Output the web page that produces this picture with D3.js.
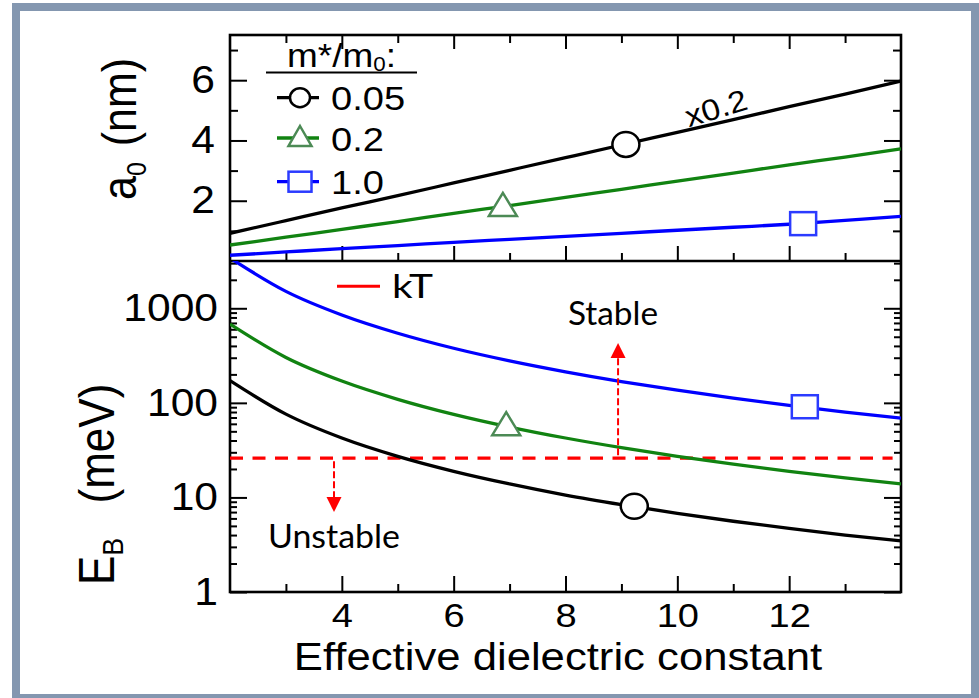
<!DOCTYPE html>
<meta charset="utf-8">
<style>
    body {
        margin: 0;
        background: #fff;
    }

    svg text {
        font-family: "Liberation Sans", Arial, sans-serif;
        fill: #000;
    }

    .tick line {
        stroke: #000;
        stroke-width: 2px;
    }

    .domain {
        display: none;
    }

    .note {
        font-family: Lato, "Noto Sans", sans-serif !important;
    }
</style>

<body>
    <svg id="chart" width="979" height="698"></svg>

    <script src="https://cdnjs.cloudflare.com/ajax/libs/d3/7.8.5/d3.min.js"></script>
    <script>
        // dielectric constant sample points
        var eps = [2, 3, 4, 5, 6, 7, 8, 9, 10, 11, 12, 13, 14];

        // exciton radius a0 (nm); the 0.05 curve is already multiplied by 0.2
        var a0Black = [0.92, 1.34, 1.76, 2.17, 2.59, 3.01, 3.43, 3.85, 4.27, 4.69, 5.12, 5.54, 5.97];
        var a0Green = [0.53, 0.79, 1.05, 1.31, 1.58, 1.84, 2.11, 2.38, 2.65, 2.92, 3.19, 3.45, 3.72];
        var a0Blue = [0.19, 0.30, 0.41, 0.51, 0.62, 0.72, 0.82, 0.92, 1.02, 1.12, 1.22, 1.35, 1.48];

        // binding energy EB (meV)
        var ebBlack = [172, 76, 42.5, 27.2, 18.9, 13.9, 10.6, 8.4, 6.8, 5.6, 4.7, 4.0, 3.47];
        var ebGreen = [680, 302, 170, 109, 75.5, 55.5, 42.5, 33.6, 27.2, 22.5, 18.9, 16.1, 13.9];
        var ebBlue = [3400, 1510, 850, 545, 378, 278, 213, 168, 136, 112, 94, 80, 69];

        var massLabels = ["0.05", "0.2", "1.0"];
        // one marker per curve: [eps, a0] and [eps, EB]
        var a0Marks = [[9.08, 3.87], [6.88, 1.80], [12.25, 1.24]];
        var ebMarks = [[9.23, 8.07], [6.94, 57], [12.28, 91]];

        var kT = 26;
        var arrowX = [3.86, 8.94];
        var arrowTip = [7.0, 430];

        var xMajor = [4, 6, 8, 10, 12];
        var xMinor = [3, 5, 7, 9, 11, 13];
        var a0Major = [2, 4, 6];
        var a0Minor = [1, 3, 5, 7];
        var ebMajor = [1, 10, 100, 1000];

        var lineColors = ["#000000", "#118311", "#0000ff"];
        var markStroke = ["#000000", "#4c8a55", "#2b3bff"];
        var markType = ["circle", "triangle", "square"];

        var svg = d3.select("#chart");
        var L = 230, R = 901, T1 = 35, B1 = 261, B2 = 592;
        var SX = 1.12; // the picture is a bit wider than tall

        var x = d3.scaleLinear().domain([2, 14]).range([L, R]);
        var yTop = d3.scaleLinear().domain([0, 7.5]).range([B1, T1]);
        var yBot = d3.scaleLog().domain([1, Math.pow(10, 3.5)]).range([B2, B1]);

        var ebMinor = [];
        ebMajor.forEach(function (d) {
            for (var m = 2; m <= 9; m++) if (m * d < 3162) ebMinor.push(m * d);
        });

        // slide frame
        svg.append("rect")
            .attr("x", 16).attr("y", 7)
            .attr("width", 959).attr("height", 691)
            .attr("fill", "none")
            .attr("stroke", "#8497b0")
            .attr("stroke-width", 8);

        var defs = svg.append("defs");
        defs.append("clipPath").attr("id", "clipTop")
            .append("rect").attr("x", L).attr("y", T1).attr("width", R - L).attr("height", B1 - T1);
        defs.append("clipPath").attr("id", "clipBot")
            .append("rect").attr("x", L).attr("y", B1).attr("width", R - L).attr("height", B2 - B1);

        // ---- axes ----
        function addAxis(axis, tx, ty, vals, size, fmt, pad, fs) {
            var g = svg.append("g")
                .attr("transform", "translate(" + tx + "," + ty + ")")
                .call(axis.tickValues(vals).tickSize(-size).tickPadding(pad || 0).tickFormat(fmt || ""));
            g.selectAll("text").style("font-size", (fs || 0) + "px");
            return g;
        }

        // top panel
        addAxis(d3.axisLeft(yTop), L, 0, a0Major, 17, d3.format("d"), 15, 38);
        addAxis(d3.axisLeft(yTop), L, 0, a0Minor, 8);
        addAxis(d3.axisRight(yTop), R, 0, a0Major, 17);
        addAxis(d3.axisRight(yTop), R, 0, a0Minor, 8);
        addAxis(d3.axisTop(x), 0, T1, xMajor, 14);
        addAxis(d3.axisTop(x), 0, T1, xMinor, 8);
        addAxis(d3.axisBottom(x), 0, B1, xMajor, 15);
        addAxis(d3.axisBottom(x), 0, B1, xMinor, 8);

        // bottom panel
        addAxis(d3.axisLeft(yBot), L, 0, ebMajor, 17, d3.format("d"), 12, 38);
        addAxis(d3.axisLeft(yBot), L, 0, ebMinor, 7);
        addAxis(d3.axisRight(yBot), R, 0, ebMajor, 17);
        addAxis(d3.axisRight(yBot), R, 0, ebMinor, 7);
        addAxis(d3.axisBottom(x), 0, B2, xMajor, 16, d3.format("d"), 11, 34);
        addAxis(d3.axisBottom(x), 0, B2, xMinor, 8);

        // stretch tick labels sideways around their anchor
        svg.selectAll(".tick text").each(function () {
            var ax = +this.getAttribute("x") || 0;
            this.setAttribute("transform", "translate(" + ax + ",0) scale(" + SX + ",1) translate(" + (-ax) + ",0)");
        });

        // panel boxes
        svg.append("rect")
            .attr("x", L).attr("y", T1).attr("width", R - L).attr("height", B2 - T1)
            .attr("fill", "none").attr("stroke", "#000").attr("stroke-width", 2.6);
        svg.append("line")
            .attr("x1", L).attr("x2", R).attr("y1", B1).attr("y2", B1)
            .attr("stroke", "#000").attr("stroke-width", 2.6);

        // ---- markers ----
        function marker(g, type, cx, cy, w, h, stroke) {
            if (type === "circle") {
                g.append("ellipse").attr("cx", cx).attr("cy", cy).attr("rx", w / 2).attr("ry", h / 2)
                    .attr("fill", "#fff").attr("stroke", stroke).attr("stroke-width", 2.5);
            } else if (type === "triangle") {
                g.append("path")
                    .attr("d", "M" + cx + "," + (cy - 0.6 * h) + "L" + (cx + w / 2) + "," + (cy + 0.4 * h) +
                        "L" + (cx - w / 2) + "," + (cy + 0.4 * h) + "Z")
                    .attr("fill", "#fff").attr("stroke", stroke).attr("stroke-width", 2.5);
            } else {
                g.append("rect").attr("x", cx - w / 2).attr("y", cy - h / 2).attr("width", w).attr("height", h)
                    .attr("fill", "#fff").attr("stroke", stroke).attr("stroke-width", 2.5);
            }
        }

        // ---- curves ----
        var a0Sets = [a0Black, a0Green, a0Blue];
        var ebSets = [ebBlack, ebGreen, ebBlue];

        var topLine = d3.line().x(function (d) { return x(d[0]); }).y(function (d) { return yTop(d[1]); })
            .curve(d3.curveMonotoneX);
        var botLine = d3.line().x(function (d) { return x(d[0]); }).y(function (d) { return yBot(d[1]); })
            .curve(d3.curveMonotoneX);

        var gTop = svg.append("g").attr("clip-path", "url(#clipTop)");
        var gBot = svg.append("g").attr("clip-path", "url(#clipBot)");

        // kT reference line
        gBot.append("line")
            .attr("x1", x(2)).attr("x2", x(13.85))
            .attr("y1", yBot(kT)).attr("y2", yBot(kT))
            .attr("stroke", "#ff0000").attr("stroke-width", 3.2)
            .attr("stroke-dasharray", "13,9.5");

        a0Sets.forEach(function (vals, i) {
            gTop.append("path")
                .datum(eps.map(function (e, j) { return [e, vals[j]]; }))
                .attr("d", topLine)
                .attr("fill", "none").attr("stroke", lineColors[i]).attr("stroke-width", 3.3);
        });
        ebSets.forEach(function (vals, i) {
            gBot.append("path")
                .datum(eps.map(function (e, j) { return [e, vals[j]]; }))
                .attr("d", botLine)
                .attr("fill", "none").attr("stroke", lineColors[i]).attr("stroke-width", 3.3);
        });

        var mSize = [[27, 25], [28, 23], [26, 23]];
        a0Marks.forEach(function (d, i) {
            marker(svg, markType[i], x(d[0]), yTop(d[1]), mSize[i][0], mSize[i][1], markStroke[i]);
        });
        ebMarks.forEach(function (d, i) {
            marker(svg, markType[i], x(d[0]), yBot(d[1]), mSize[i][0], mSize[i][1], markStroke[i]);
        });

        // stability arrows
        arrowX.forEach(function (a, i) {
            var x0 = x(a), y0 = yBot(kT), y1 = yBot(arrowTip[i]);
            var dir = y1 > y0 ? 1 : -1;
            var head = 15;
            svg.append("line")
                .attr("x1", x0).attr("x2", x0)
                .attr("y1", y0 + dir * 3).attr("y2", y1 - dir * head)
                .attr("stroke", "#ff0000").attr("stroke-width", 2)
                .attr("stroke-dasharray", "7,3");
            svg.append("path")
                .attr("d", "M" + x0 + "," + y1 + "L" + (x0 - 7.5) + "," + (y1 - dir * head) +
                    "L" + (x0 + 7.5) + "," + (y1 - dir * head) + "Z")
                .attr("fill", "#ff0000");
        });

        function note(txt, cx, baseY, width, fs) {
            svg.append("text").attr("class", "note")
                .attr("x", cx).attr("y", baseY)
                .attr("text-anchor", "middle")
                .attr("textLength", width).attr("lengthAdjust", "spacingAndGlyphs")
                .style("font-size", fs + "px")
                .text(txt);
        }
        note("Stable", x(8.85), yBot(664), 90, 32);
        note("Unstable", x(3.86), yBot(2.9), 132, 32);

        // kT legend
        svg.append("line")
            .attr("x1", 337).attr("x2", 380)
            .attr("y1", yBot(1710)).attr("y2", yBot(1710))
            .attr("stroke", "#ff0000").attr("stroke-width", 3);
        svg.append("text").attr("class", "note")
            .attr("x", 392).attr("y", 298)
            .attr("textLength", 41).attr("lengthAdjust", "spacingAndGlyphs")
            .style("font-size", "33px")
            .text("kT");

        // x0.2 tag on the black a0 curve
        svg.append("text")
            .attr("transform", "translate(716,108) rotate(-17) scale(" + SX + ",1)")
            .attr("text-anchor", "middle")
            .attr("dy", "0.35em")
            .style("font-size", "30px")
            .text("x0.2");

        // ---- legend ----
        var leg = svg.append("g");
        leg.append("text")
            .attr("transform", "translate(287,67) scale(" + SX + ",1)")
            .style("font-size", "33px")
            .text("m*/m")
            .append("tspan").attr("dy", 4).style("font-size", "20px").text("0")
            .select(function () { return this.parentNode; })
            .append("tspan").attr("dy", -4).text(":");
        leg.append("line")
            .attr("x1", 266).attr("x2", 417).attr("y1", 72.5).attr("y2", 72.5)
            .attr("stroke", "#000").attr("stroke-width", 2.2);

        var legY = [97.7, 138, 181.7];
        var legSize = [[20, 19], [23, 20], [23, 20]];
        massLabels.forEach(function (lab, i) {
            leg.append("line")
                .attr("x1", 277).attr("x2", 319).attr("y1", legY[i]).attr("y2", legY[i])
                .attr("stroke", lineColors[i]).attr("stroke-width", 3.3);
            marker(leg, markType[i], 300, legY[i], legSize[i][0], legSize[i][1], markStroke[i]);
            leg.append("text")
                .attr("transform", "translate(331," + (legY[i] + 12.5) + ") scale(" + SX + ",1)")
                .style("font-size", "34px")
                .text(lab);
        });

        // ---- axis titles ----
        svg.append("text")
            .attr("transform", "translate(558,670) scale(" + SX + ",1)")
            .attr("text-anchor", "middle")
            .style("font-size", "39px")
            .text("Effective dielectric constant");

        var t1 = svg.append("text")
            .attr("transform", "translate(136,200) scale(" + SX + ",1) rotate(-90)")
            .style("font-size", "43px");
        t1.append("tspan").text("a");
        t1.append("tspan").attr("dy", 9).style("font-size", "25px").text("0");
        t1.append("tspan").attr("dy", -9).attr("dx", 4).text(" (nm)");

        var t2 = svg.append("text")
            .attr("transform", "translate(114,585) scale(" + SX + ",1) rotate(-90)")
            .style("font-size", "44px");
        t2.append("tspan").text("E");
        t2.append("tspan").attr("dy", 8).style("font-size", "27px").text("B");
        t2.append("tspan").attr("dy", -8).attr("dx", 22).text(" (meV)");
    </script>
</body>
